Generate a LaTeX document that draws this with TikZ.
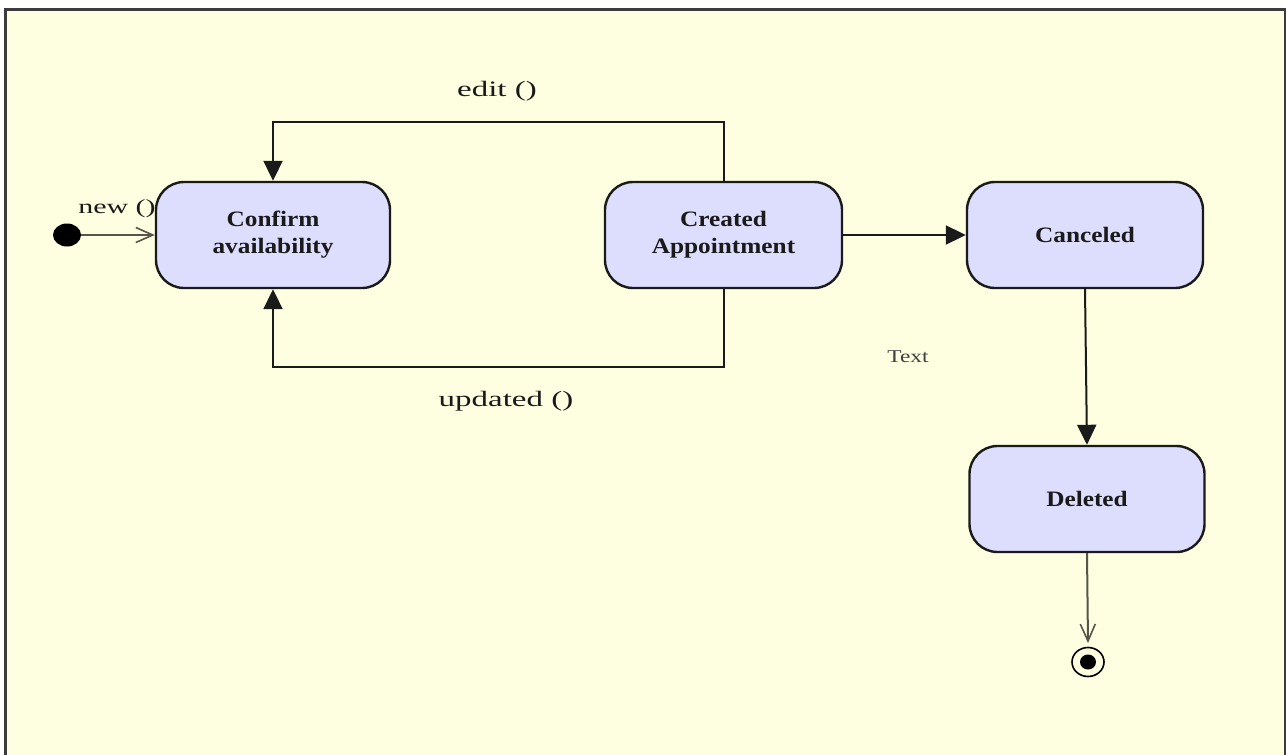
\documentclass[tikz,border=0pt]{standalone}
\usepackage{fontspec}
\setmainfont{Liberation Serif}
\newfontfamily\lblfont{Liberation Serif}[FakeStretch=1.5]
\newfontfamily\smallfont{Liberation Serif}[FakeStretch=1.3]
\newfontfamily\statefont{Liberation Serif Bold}[FakeStretch=1.15]
\usetikzlibrary{arrows.meta,shapes.geometric}
\definecolor{paper}{HTML}{FEFEE0}
\definecolor{statefill}{HTML}{DDDDFD}
\definecolor{frameline}{HTML}{3C3C3C}
\definecolor{inkline}{HTML}{1A1A1A}
\definecolor{thinline}{HTML}{55554A}
\tikzset{
  statebox/.style={draw=inkline, line width=2.4pt, fill=statefill, rounded corners=28pt,
    align=center, inner sep=0pt, text=inkline,
    font=\statefont\fontsize{22}{27}\selectfont},
  flow/.style={draw=inkline, line width=2pt, -{Triangle[length=20pt,width=19pt]}},
  thinflow/.style={draw=thinline, line width=2pt, -{Straight Barb[length=17pt,width=15pt,line width=1.6pt]}},
  evlabel/.style={inner sep=0pt, text=inkline, font=\lblfont\fontsize{22}{25}\selectfont},
  pseudo/.style={ellipse, inner sep=0pt},
}
\begin{document}
\begin{tikzpicture}[x=1pt, y=-1pt]
  % page and frame
  \useasboundingbox (0,0) rectangle (1286,755);
  \fill[white] (0,0) rectangle (1286,755);
  \begin{scope}
    \clip (0,0) rectangle (1286,755);
    \draw[frameline, line width=3pt, fill=paper] (5,9) rectangle (1285,770);
  \end{scope}

  % states
  \node[statebox, minimum width=234pt, minimum height=106pt] (conf) at (273,235) {Confirm\\availability};
  \node[statebox, minimum width=237pt, minimum height=106pt] (crt) at (723.5,235) {Created\\Appointment};
  \node[statebox, minimum width=236pt, minimum height=106pt] (canc) at (1085,235) {Canceled};
  \node[statebox, minimum width=235pt, minimum height=106pt] (del) at (1087,499) {Deleted};

  % initial and final pseudo-states
  \node[pseudo, fill=black, minimum width=28pt, minimum height=23pt] (init) at (67,235) {};
  \node[pseudo, draw=black, line width=1.6pt, minimum width=32pt, minimum height=29pt] (fin) at (1088,662) {};
  \node[pseudo, fill=black, minimum width=16pt, minimum height=15pt] (finDot) at (fin.center) {};
  \coordinate (finTop) at (1088,643);

  % transitions
  \draw[thinflow] (init.east) -- (conf.west);
  \coordinate (editR) at (723.5,122);
  \coordinate (editL) at (273,122);
  \draw[flow] (crt.north) -- (editR) -- (editL) -- (conf.north);
  \coordinate (updR) at (723.5,367);
  \coordinate (updL) at (273,367);
  \draw[flow] (crt.south) -- (updR) -- (updL) -- (conf.south);
  \draw[flow] (crt.east) -- (canc.west);
  \draw[flow] (canc.south) -- (del.north);
  \draw[thinflow] (del.south) -- (finTop);

  % event labels
  \node[evlabel, font=\lblfont\fontsize{20}{24}\selectfont] (lnew) at (117,209) {new ()};
  \node[evlabel] (ledit) at (497,91) {edit ()};
  \node[evlabel] (lupd) at (506,401) {updated ()};
  \node[evlabel, text=black!75, font=\smallfont\fontsize{18}{22}\selectfont] (ltext) at (908,357) {Text};
\end{tikzpicture}
\end{document}
